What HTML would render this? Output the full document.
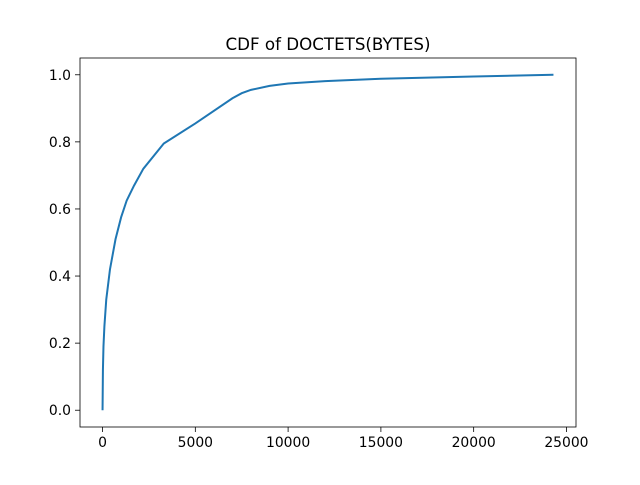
<!DOCTYPE html>
<html><head><meta charset="utf-8"><style>
body{margin:0;background:#fff;}
svg text{font-family:"DejaVu Sans","Liberation Sans",sans-serif;fill:#000;}
</style></head><body>
<svg width="640" height="480" xmlns="http://www.w3.org/2000/svg">
<rect width="640" height="480" fill="#fff"/>
<text x="328" y="50" font-size="16.7" text-anchor="middle">CDF of DOCTETS(BYTES)</text>
<g id="xt"></g>
<g id="yt"></g>
<path id="line" fill="none" stroke="#1f77b4" stroke-width="2"/>
<rect x="80" y="58" width="496" height="369" fill="none" stroke="#000" stroke-width="0.8"/>
</svg>
<script>
const xValues=[0,20,50,100,200,400,700,1000,1300,1700,2200,3300,5000,7000,7500,8000,9000,10000,12000,15000,20000,24300];
const yValues=[0,0.12,0.19,0.25,0.33,0.42,0.51,0.575,0.625,0.67,0.72,0.795,0.855,0.93,0.945,0.955,0.967,0.974,0.981,0.988,0.995,1.0];
const xTicks=[0,5000,10000,15000,20000,25000];
const yTicks=[0,0.2,0.4,0.6,0.8,1.0];
const xMin=-1215,xMax=25515,yMin=-0.05,yMax=1.05;
function sx(v){return 80+(v-xMin)/(xMax-xMin)*496;}
function sy(v){return 427-(v-yMin)/(yMax-yMin)*369;}
const NS="http://www.w3.org/2000/svg";
const xt=document.getElementById('xt'),yt=document.getElementById('yt');
xTicks.forEach(t=>{
 const l=document.createElementNS(NS,'line');
 l.setAttribute('x1',sx(t));l.setAttribute('x2',sx(t));l.setAttribute('y1',427);l.setAttribute('y2',432);
 l.setAttribute('stroke','#000');l.setAttribute('stroke-width','0.8');
 
 
 xt.appendChild(l);
 const tx=document.createElementNS(NS,'text');
 tx.setAttribute('x',sx(t));tx.setAttribute('y',447);tx.setAttribute('font-size','13.9');tx.setAttribute('text-anchor','middle');
 tx.textContent=t;
 
 
 xt.appendChild(tx);
});
yTicks.forEach(t=>{
 const l=document.createElementNS(NS,'line');
 l.setAttribute('x1',75);l.setAttribute('x2',80);l.setAttribute('y1',sy(t));l.setAttribute('y2',sy(t));
 l.setAttribute('stroke','#000');l.setAttribute('stroke-width','0.8');
 
 
 yt.appendChild(l);
 const tx=document.createElementNS(NS,'text');
 tx.setAttribute('x',71);tx.setAttribute('y',sy(t)+5);tx.setAttribute('font-size','13.9');tx.setAttribute('text-anchor','end');
 tx.textContent=t.toFixed(1);
 
 
 yt.appendChild(tx);
});
document.getElementById('line').setAttribute('d',xValues.map((x,i)=>(i?'L':'M')+sx(x).toFixed(2)+','+sy(yValues[i]).toFixed(2)).join(''));
</script>
</body></html>
